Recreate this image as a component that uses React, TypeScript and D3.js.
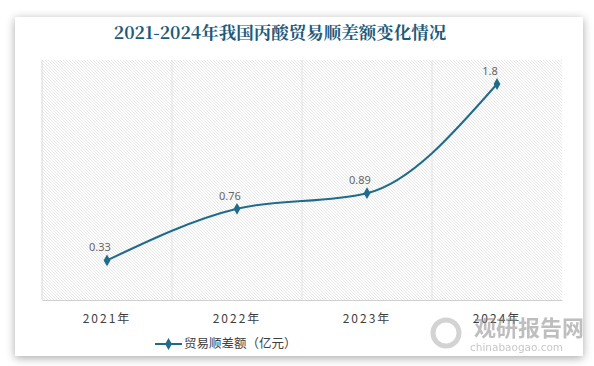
import React, { useEffect, useRef } from 'react';
import * as d3 from 'd3';

const years = ['2021年', '2022年', '2023年', '2024年'];
const surplus = [0.33, 0.76, 0.89, 1.8];
const seriesName = '贸易顺差额（亿元）';
const chartTitle = '2021-2024年我国丙酸贸易顺差额变化情况';

const W = 594;
const H = 366;
const margin = { top: 60, right: 32, bottom: 66, left: 42 };
const lineColor = '#1f6b8c';

export default function App() {
  const ref = useRef<SVGSVGElement>(null);

  useEffect(() => {
    const svg = d3.select(ref.current);
    svg.selectAll('*').remove();

    const defs = svg.append('defs');
    const f = defs.append('filter').attr('id', 'shadow').attr('x', '-5%').attr('y', '-5%').attr('width', '110%').attr('height', '115%');
    f.append('feGaussianBlur').attr('in', 'SourceAlpha').attr('stdDeviation', 5);
    f.append('feOffset').attr('dx', 0).attr('dy', 2).attr('result', 'b');
    f.append('feComponentTransfer').append('feFuncA').attr('type', 'linear').attr('slope', 0.35);
    const merge = f.append('feMerge');
    merge.append('feMergeNode');
    merge.append('feMergeNode').attr('in', 'SourceGraphic');

    const pat = defs.append('pattern').attr('id', 'hatch').attr('patternUnits', 'userSpaceOnUse')
      .attr('width', 3).attr('height', 3);
    pat.append('path').attr('d', 'M-1,-1 L4,4 M-1,2 L1,4 M2,-1 L4,1')
      .attr('stroke', '#dcdcdc').attr('stroke-width', 0.7);

    // card
    svg.append('rect').attr('x', 15).attr('y', 17).attr('width', 568).attr('height', 339)
      .attr('fill', '#fff').attr('filter', 'url(#shadow)');

    const innerW = W - margin.left - margin.right;
    const innerH = H - margin.top - margin.bottom;

    const x = d3.scaleBand().domain(years).range([0, innerW]);
    const y = d3.scaleLinear().domain([0, 2]).range([innerH, 0]);

    svg.append('text').attr('x', 280).attr('y', 39).attr('text-anchor', 'middle')
      .attr('fill', '#1d5a7a').attr('font-size', 17.5).attr('font-weight', 'bold')
      .attr('font-family', '"Noto Serif CJK SC", "DejaVu Serif", serif')
      .text(chartTitle);

    const g = svg.append('g').attr('transform', `translate(${margin.left},${margin.top})`);

    g.append('rect').attr('width', innerW).attr('height', innerH).attr('fill', 'url(#hatch)');

    // vertical grid at band edges
    g.selectAll('line.grid').data(years.slice(1)).enter().append('line')
      .attr('class', 'grid')
      .attr('x1', d => x(d)!).attr('x2', d => x(d)!)
      .attr('y1', 0).attr('y2', innerH)
      .attr('stroke', '#e2e2e2').attr('stroke-width', 1);
    g.append('line').attr('x1', 0).attr('x2', 0).attr('y1', 0).attr('y2', innerH)
      .attr('stroke', '#d9d9d9');

    const xAxis = g.append('g').attr('transform', `translate(0,${innerH})`)
      .call(d3.axisBottom(x).tickSize(0).tickPadding(14));
    xAxis.select('.domain').attr('stroke', '#d0d0d0');
    xAxis.selectAll('text').attr('fill', '#404040').attr('font-size', 12)
      .attr('letter-spacing', '2px')
      .attr('font-family', '"Noto Sans CJK SC", "Noto Sans", sans-serif');

    const pts = surplus.map((v, i) => [x(years[i])! + x.bandwidth() / 2, y(v)] as [number, number]);
    const line = d3.line().curve(d3.curveMonotoneX);
    g.append('path').attr('d', line(pts)).attr('fill', 'none')
      .attr('stroke', lineColor).attr('stroke-width', 2);

    const sym = d3.symbol().type(d3.symbolDiamond).size(40);
    g.selectAll('path.pt').data(pts).enter().append('path')
      .attr('class', 'pt').attr('d', sym)
      .attr('transform', d => `translate(${d[0]},${d[1]})`)
      .attr('fill', lineColor);

    g.selectAll('text.lbl').data(surplus).enter().append('text')
      .attr('class', 'lbl')
      .attr('x', (d, i) => pts[i][0] - 7).attr('y', (d, i) => pts[i][1] - 9)
      .attr('text-anchor', 'middle').attr('font-size', 11).attr('fill', '#666')
      .attr('font-family', '"Noto Sans", sans-serif')
      .text(d => String(d));

    // legend
    const lg = svg.append('g').attr('transform', 'translate(155,344)');
    lg.append('line').attr('x1', 0).attr('x2', 27).attr('y1', 0).attr('y2', 0)
      .attr('stroke', lineColor).attr('stroke-width', 2);
    lg.append('path').attr('d', sym).attr('transform', 'translate(13.5,0)').attr('fill', lineColor);
    lg.append('text').attr('x', 29).attr('y', 4).attr('font-size', 12.5).attr('fill', '#404040')
      .attr('font-family', '"Noto Sans CJK SC", sans-serif').text(seriesName);

    // watermark
    const wm = svg.append('g').attr('opacity', 0.55);
    wm.append('text').attr('x', 474).attr('y', 336).attr('font-size', 22).attr('font-weight', 'bold')
      .attr('fill', '#8a8a8a').attr('font-family', '"Noto Sans CJK SC", sans-serif').text('观研报告网');
    wm.append('text').attr('x', 470).attr('y', 351).attr('font-size', 10.5)
      .attr('fill', '#9a9a9a').attr('font-family', '"DejaVu Sans", sans-serif').text('chinabaogao.com');
    wm.append('circle').attr('cx', 446).attr('cy', 333).attr('r', 13).attr('fill', 'none')
      .attr('stroke', '#b0b0b0').attr('stroke-width', 5);
  }, []);

  return (
    <svg ref={ref} width={W} height={H}
      style={{ position: 'absolute', left: 0, top: 0, background: '#fff' }} />
  );
}
